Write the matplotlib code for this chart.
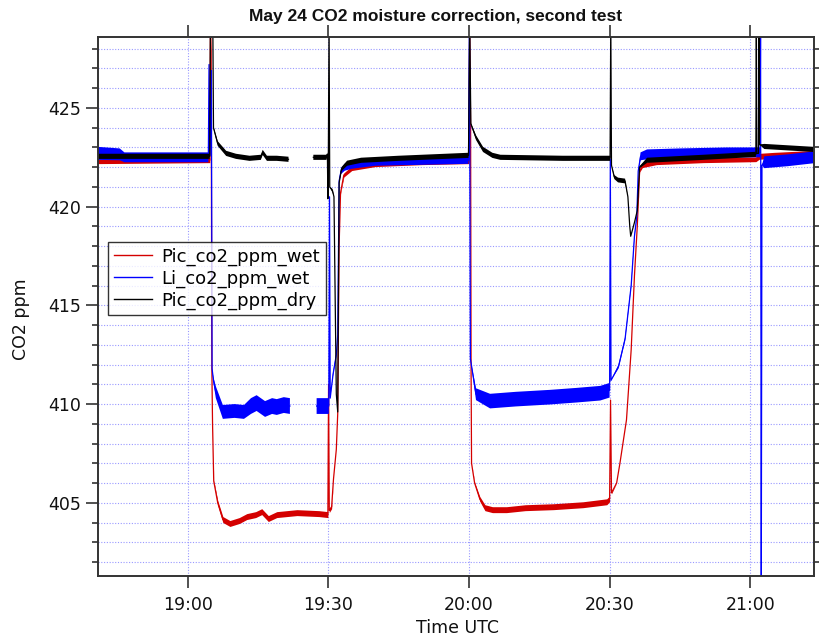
import matplotlib
matplotlib.use("Agg")
import matplotlib.pyplot as plt
import numpy as np
from matplotlib.ticker import MultipleLocator, FixedLocator

nan = np.nan

# time in minutes after 18:00 UTC, value (ppm), visible noise half-width (ppm)
red_pts = [
    (40.8, 422.3, 0.12), (64.7, 422.35, 0.12), (64.85, 429.5, 0), (65.0, 427.9, 0),
    (65.15, 411.8, 0), (65.3, 409.0, 0), (65.55, 406.1, 0.05), (66.4, 405.0, 0.12),
    (67.5, 404.15, 0.15), (69.0, 403.95, 0.15), (71.0, 404.1, 0.15), (72.6, 404.3, 0.15),
    (74.5, 404.4, 0.15), (75.8, 404.55, 0.15), (77.2, 404.2, 0.15), (79.0, 404.4, 0.15),
    (83.3, 404.5, 0.15), (88.0, 404.45, 0.15), (89.9, 404.4, 0.15), (90.05, 411.0, 0),
    (90.2, 404.6, 0.1), (90.7, 404.8, 0.1), (91.1, 406.2, 0), (91.7, 407.7, 0),
    (92.0, 409.5, 0), (92.3, 418.0, 0), (92.6, 420.7, 0.05), (93.3, 421.6, 0.1),
    (95.0, 421.95, 0.12), (100.0, 422.15, 0.12), (110.0, 422.25, 0.12), (120.0, 422.3, 0.12),
    (120.15, 429.5, 0), (120.35, 424.0, 0), (120.45, 411.7, 0), (120.55, 407.0, 0),
    (121.2, 406.0, 0.05), (122.3, 405.2, 0.12), (123.4, 404.75, 0.15), (125.0, 404.65, 0.15),
    (128.0, 404.65, 0.15), (132.0, 404.75, 0.15), (138.0, 404.8, 0.15), (144.3, 404.9, 0.15),
    (149.4, 405.05, 0.15), (150.0, 405.2, 0.15), (150.2, 410.2, 0), (150.4, 405.5, 0.05),
    (151.5, 406.0, 0), (152.2, 407.0, 0), (153.6, 409.2, 0), (154.6, 412.75, 0),
    (155.3, 416.5, 0), (155.9, 419.0, 0), (156.4, 421.8, 0.05), (157.0, 422.1, 0.12),
    (160.0, 422.25, 0.12), (170.0, 422.35, 0.12), (181.2, 422.4, 0.12), (181.9, 422.55, 0.15),
    (185.0, 422.6, 0.15), (193.6, 422.7, 0.15),
]

blue_pts = [
    (40.8, 422.7, 0.33), (45.5, 422.65, 0.3), (46.5, 422.5, 0.25), (64.4, 422.5, 0.25),
    (64.55, 427.2, 0), (64.75, 422.6, 0), (65.05, 426.9, 0), (65.2, 411.8, 0),
    (65.5, 411.2, 0.15), (66.0, 410.6, 0.3), (67.5, 409.6, 0.35), (70.0, 409.65, 0.35),
    (72.0, 409.6, 0.35), (73.5, 409.9, 0.4), (74.7, 410.05, 0.4), (75.6, 409.9, 0.4),
    (76.5, 409.75, 0.4), (78.0, 409.9, 0.4), (79.0, 409.85, 0.4), (80.5, 409.95, 0.4),
    (81.8, 409.9, 0.4),
    (81.9, nan, nan),
    (87.5, 409.9, 0.4), (90.1, 409.9, 0.4), (90.25, 420.5, 0), (90.4, 410.3, 0),
    (91.0, 411.5, 0.1), (91.7, 412.5, 0.1), (92.0, 413.5, 0), (92.3, 421.3, 0),
    (92.7, 421.8, 0.15), (93.5, 422.0, 0.18), (95.0, 422.1, 0.18), (100.0, 422.25, 0.18),
    (110.0, 422.3, 0.18), (119.9, 422.35, 0.18), (120.1, 429.5, 0), (120.3, 412.3, 0),
    (121.5, 410.5, 0.3), (124.5, 410.15, 0.37), (130.0, 410.25, 0.37), (137.3, 410.35, 0.37),
    (143.0, 410.45, 0.37), (148.0, 410.55, 0.37), (150.0, 410.7, 0.37), (150.15, 422.4, 0),
    (150.3, 411.2, 0), (151.9, 411.9, 0.1), (153.3, 413.3, 0.1), (154.6, 416.0, 0.1),
    (155.3, 418.5, 0.1), (155.8, 419.5, 0), (156.1, 421.8, 0), (156.6, 422.55, 0.2),
    (158.0, 422.65, 0.25), (165.0, 422.7, 0.25), (175.0, 422.75, 0.25), (182.1, 422.75, 0.25),
    (182.2, 429.5, 0), (182.35, 400.0, 0), (182.5, 422.1, 0), (183.0, 422.25, 0.3),
    (188.0, 422.35, 0.3), (193.6, 422.5, 0.3),
]

black_pts = [
    (40.8, 422.55, 0.13), (64.7, 422.55, 0.13), (64.85, 429.5, 0), (65.35, 429.5, 0),
    (65.5, 424.0, 0.05), (66.4, 423.2, 0.12), (68.2, 422.7, 0.13), (70.3, 422.55, 0.13),
    (73.2, 422.45, 0.13), (75.6, 422.5, 0.13), (76.0, 422.75, 0.13), (76.9, 422.45, 0.13),
    (79.0, 422.45, 0.13), (81.5, 422.4, 0.13),
    (81.6, nan, nan),
    (86.8, 422.5, 0.13), (89.6, 422.5, 0.13), (89.8, 422.65, 0.1), (89.9, 420.4, 0),
    (90.0, 422.5, 0), (90.15, 429.5, 0), (90.3, 421.0, 0), (90.9, 420.8, 0.1),
    (91.2, 420.5, 0), (91.7, 410.5, 0), (92.0, 409.6, 0), (92.3, 421.2, 0),
    (92.8, 421.9, 0.1), (94.0, 422.2, 0.13), (97.0, 422.35, 0.13), (105.0, 422.45, 0.13),
    (119.9, 422.6, 0.13), (120.15, 429.5, 0), (120.4, 424.2, 0.05), (121.5, 423.5, 0.12),
    (123.0, 422.9, 0.13), (125.0, 422.6, 0.13), (126.7, 422.5, 0.13), (140.0, 422.45, 0.13),
    (150.1, 422.45, 0.13), (150.25, 429.5, 0), (150.4, 422.1, 0), (151.0, 421.5, 0.1),
    (151.8, 421.35, 0.12), (153.3, 421.3, 0.12), (153.9, 420.5, 0), (154.3, 419.0, 0),
    (154.5, 418.5, 0), (155.3, 419.2, 0), (155.9, 419.8, 0), (156.4, 422.0, 0.05),
    (158.0, 422.35, 0.13), (170.0, 422.5, 0.13), (181.2, 422.65, 0.13), (181.3, 429.5, 0),
    (181.4, 422.7, 0), (181.75, 422.7, 0), (181.85, 429.5, 0), (181.95, 423.15, 0),
    (183.0, 423.05, 0.13), (193.6, 422.9, 0.13),
]

series_names = ["Pic_co2_ppm_wet", "Li_co2_ppm_wet", "Pic_co2_ppm_dry"]
series_colors = ["#d40000", "#0000ff", "#000000"]

x_tick_pos = [60, 90, 120, 150, 180]
x_tick_labels = ["19:00", "19:30", "20:00", "20:30", "21:00"]
y_major = [405, 410, 415, 420, 425]

W, H = 819, 640
fig = plt.figure(figsize=(W / 100, H / 100), dpi=100)
ax = fig.add_axes([97.7 / W, 1 - 576 / H, (814 - 97.7) / W, (576 - 36.7) / H])

for pts, name, col in zip([red_pts, blue_pts, black_pts], series_names, series_colors):
    arr = np.array(pts, dtype=float)
    t, v, s = arr[:, 0], arr[:, 1], arr[:, 2]
    ax.fill_between(t, v - s, v + s, color=col, lw=0, zorder=2)
    ax.plot(t, v, color=col, lw=0.9, label=name, zorder=2)

ax.set_xlim(40.8, 193.6)
ax.set_ylim(401.29, 428.61)

ax.xaxis.set_major_locator(FixedLocator(x_tick_pos))
ax.set_xticklabels(x_tick_labels)
ax.yaxis.set_major_locator(FixedLocator(y_major))
ax.yaxis.set_minor_locator(MultipleLocator(1))

grid_col = (0.6, 0.6, 1.0)
ax.grid(True, which="major", axis="x", color=grid_col, lw=0.8, ls=(0, (1, 1.5)))
ax.grid(True, which="both", axis="y", color=grid_col, lw=0.8, ls=(0, (1, 1.5)))
ax.set_axisbelow(True)

tick_col = "#222222"
ax.tick_params(axis="both", which="major", direction="out", length=8.3, width=1.1,
               color=tick_col, labelsize=12.5, labelcolor="#111111")
ax.tick_params(axis="x", which="major", top=True, pad=6)
ax.tick_params(axis="y", which="major", right=True, pad=4)
ax.tick_params(axis="y", which="minor", direction="out", length=4.3, width=1.1,
               color=tick_col, left=True, right=True)
for sp in ax.spines.values():
    sp.set_color("#333333")
    sp.set_linewidth(1.4)

leg = ax.legend(loc="lower left", bbox_to_anchor=(0.0148, 0.484), fontsize=13,
                frameon=True, fancybox=False, edgecolor="black", borderpad=0.3,
                handlelength=2.1, handletextpad=0.55, labelspacing=0.2,
                borderaxespad=0)
leg.get_frame().set_linewidth(1.0)
for h in leg.get_lines():
    h.set_linewidth(1.0)

fig.text(436 / W, 1 - 16 / H, "May 24 CO2 moisture correction, second test",
         ha="center", va="center", fontsize=12.5, fontweight="bold",
         family="Liberation Sans", color="#111111")
fig.text(21 / W, 1 - 319 / H, "CO2 ppm", rotation=90, ha="center", va="center",
         fontsize=12.5, color="#111111")
fig.text(457.7 / W, 1 - 628 / H, "Time UTC", ha="center", va="center",
         fontsize=12.5, color="#111111")

fig.savefig("out.png", dpi=100)
